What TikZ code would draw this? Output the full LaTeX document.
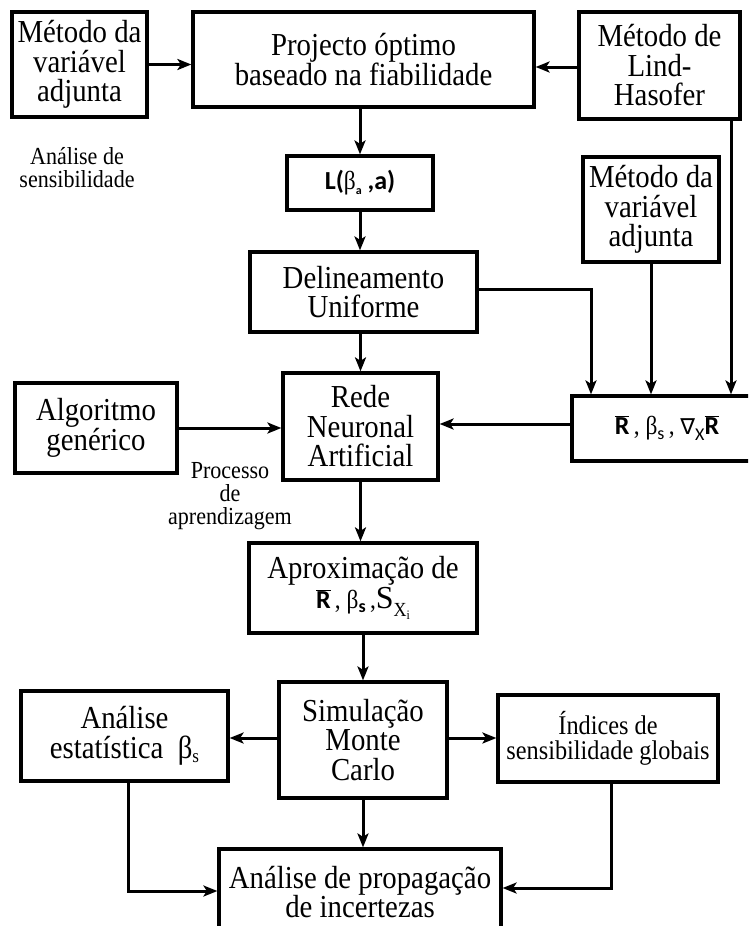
\documentclass[tikz,border=0pt]{standalone}
\usepackage{fontspec}
\setmainfont{Liberation Serif}[FakeStretch=0.9]
\newfontfamily\carl{Carlito}
\newfontfamily\dvs{DejaVu Sans}
\newfontfamily\plainserif{Liberation Serif}
\usetikzlibrary{arrows.meta}
\newcommand\myRbar{$\overline{\hbox{\carl\bfseries R}}$}
\newcommand\mylow[2]{\raisebox{-#1pt}{#2}}
\tikzset{
  box/.style={draw, line width=3.2pt, inner sep=0pt, align=center,
    font=\fontsize{32}{29.5}\selectfont},
  conn/.style={line width=3pt, -{Stealth[length=14pt,width=11pt,inset=3.5pt]}},
  note/.style={align=center, font=\fontsize{24.5}{23}\selectfont}
}
\begin{document}
\begin{tikzpicture}[x=1pt,y=-1pt]
\useasboundingbox (0,0) rectangle (748,926);
\clip (0,0) rectangle (748,926);
% nodes
\node[box, minimum width=135, minimum height=105] (m1) at (79.5,64.5) {Método da\\variável\\adjunta};
\node[box, minimum width=341, minimum height=95] (proj) at (363.5,59.5) {Projecto óptimo\\baseado na fiabilidade};
\node[box, minimum width=161, minimum height=107] (lind) at (659.5,65.5) {Método de\\Lind-\\Hasofer};
\node[box, minimum width=146, minimum height=54, font=\fontsize{26}{26}\selectfont] (L) at (360,183)
  {{\carl\bfseries L(}β\mylow{5}{\fontsize{12}{12}\selectfont\carl\bfseries a}{\carl\bfseries\ ,a)}};
\node[box, minimum width=136, minimum height=105] (m2) at (651,209.5) {Método da\\variável\\adjunta};
\node[box, minimum width=227, minimum height=80] (del) at (363.5,292) {Delineamento\\Uniforme};
\node[box, minimum width=155, minimum height=107] (rede) at (360.5,426.5) {Rede\\Neuronal\\Artificial};
\node[box, minimum width=162, minimum height=90] (alg) at (96,428) {Algoritmo\\genérico};
\node[box, minimum width=190, minimum height=65, font=\fontsize{26}{26}\selectfont] (R) at (667,428.5)
  {\myRbar\,, β\mylow{5}{\fontsize{18}{18}\selectfont\carl s}\,, {\dvs\fontsize{22}{22}\selectfont ∇}\mylow{6}{\fontsize{18}{18}\selectfont\carl X}\myRbar};
\node[box, minimum width=228, minimum height=90] (aprox) at (363,588)
  {Aproximação de\\{\fontsize{26}{26}\selectfont\myRbar\,, β\mylow{4}{\fontsize{18}{18}\selectfont\carl\bfseries s}\,,}{\plainserif S}\mylow{8}{\fontsize{20}{20}\selectfont X\mylow{3}{\fontsize{13}{13}\selectfont i}}};
\node[box, minimum width=168, minimum height=116] (sim) at (363,740) {Simulação\\Monte\\Carlo};
\node[box, minimum width=207, minimum height=90] (est) at (124.5,736) {Análise\\estatística\ \ β\mylow{4}{\fontsize{19}{19}\selectfont s}};
\node[box, minimum width=220, minimum height=87, font=\fontsize{27}{25}\selectfont] (ind) at (608,738.5) {Índices de\\sensibilidade globais};
\node[box, minimum width=282, minimum height=86] (prop) at (360,892) {Análise de propagação\\de incertezas};
% notes
\node[note] (n1) at (77,168) {Análise de\\sensibilidade};
\node[note] (n2) at (230,496) {Processo\\de\\aprendizagem};
% helper coordinates
\coordinate (c1) at (591,0);
\coordinate (c2) at (731,0);
\coordinate (c3) at (128,891);
\coordinate (c4) at (611,888);
% connectors
\draw[conn] (m1.east) -- (m1.east -| proj.west);
\draw[conn] (lind.west |- 0,67) -- (proj.east |- 0,67);
\draw[conn] (L.north |- proj.south) -- (L.north);
\draw[conn] (L.south) -- (L.south |- del.north);
\draw[conn] (rede.north |- del.south) -- (rede.north);
\draw[conn] (del.east |- 0,289) -| (c1 |- R.north);
\draw[conn] (m2.south) -- (m2.south |- R.north);
\draw[conn] (c2 |- lind.south) -- (c2 |- R.north);
\draw[conn] (R.west |- 0,424) -- (rede.east |- 0,424);
\draw[conn] (alg.east) -- (alg.east -| rede.west);
\draw[conn] (rede.south) -- (rede.south |- aprox.north);
\draw[conn] (aprox.south) -- (aprox.south |- sim.north);
\draw[conn] (sim.west |- 0,738) -- (est.east |- 0,738);
\draw[conn] (sim.east |- 0,738) -- (ind.west |- 0,738);
\draw[conn] (sim.south) -- (sim.south |- prop.north);
\draw[conn] (c3 |- est.south) -- (c3) -- (c3 -| prop.west);
\draw[conn] (c4 |- ind.south) -- (c4) -- (c4 -| prop.east);
\end{tikzpicture}
\end{document}
